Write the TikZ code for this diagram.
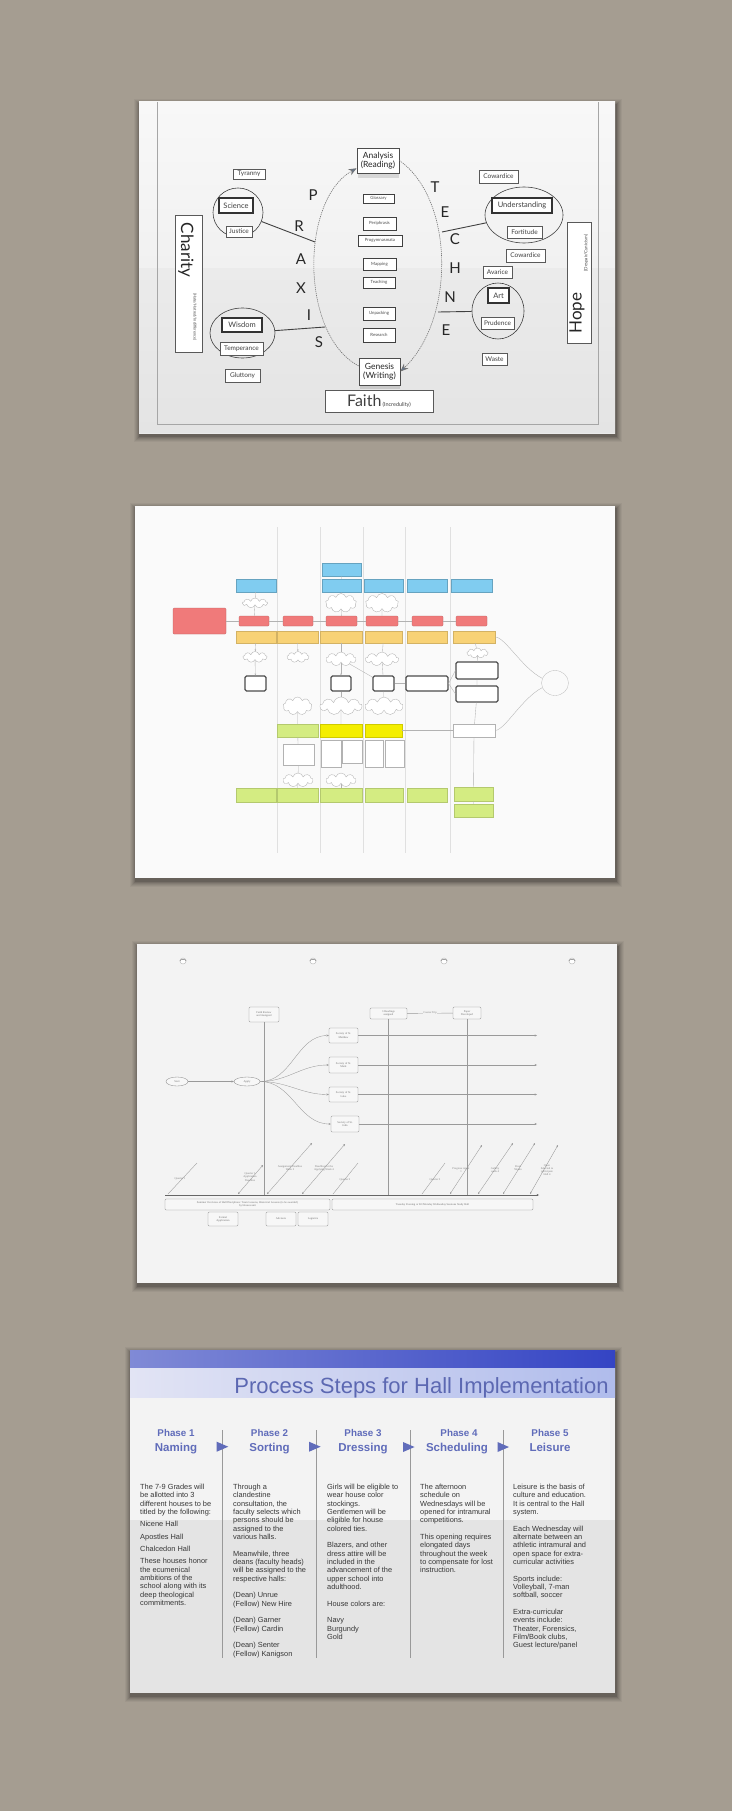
\documentclass[tikz,border=0pt]{standalone}
\usepackage{fontspec}
\setmainfont{Liberation Sans}
\newfontfamily\gill{Lato}
\newfontfamily\serf{Liberation Serif}
\usetikzlibrary{arrows.meta,shapes.geometric,shapes.symbols,calc}
\definecolor{bgc}{RGB}{165,157,145}
\definecolor{ink}{RGB}{55,55,55}
\definecolor{pblue}{RGB}{96,108,186}
\definecolor{tblue}{RGB}{92,104,178}
\definecolor{skyb}{RGB}{128,204,240}
\definecolor{salm}{RGB}{240,122,122}
\definecolor{oran}{RGB}{248,210,118}
\definecolor{lgrn}{RGB}{212,236,130}
\definecolor{yelo}{RGB}{244,238,0}
\definecolor{arrb}{RGB}{100,118,140}
\definecolor{p1top}{RGB}{248,248,248}
\definecolor{p1bot}{RGB}{234,234,234}
\definecolor{p2}{RGB}{250,250,250}
\definecolor{p3}{RGB}{243,243,243}
\definecolor{p4}{RGB}{243,243,243}
\definecolor{hd1l}{RGB}{128,138,214}
\definecolor{hd1r}{RGB}{52,68,196}
\definecolor{hd2l}{RGB}{226,228,244}
\definecolor{hd2r}{RGB}{176,188,236}
\newcommand\bx[7]{\node[#6,minimum width={#4-#2},minimum height={#5-#3}] (#1) at ({(#2+#4)/2},{(#3+#5)/2}) {#7};}
\newcommand\softshadow[4]{%
  \foreach \i/\o in {6/0.04,5/0.05,4/0.06,3/0.07,2/0.09,1/0.12}{%
    \fill[black,opacity=\o] ({#1-\i+0.5},{#2-\i+3}) rectangle ({#3+\i+0.5},{#4+\i+3});}}
\newcommand\diag[8]{\coordinate (#1a) at (#2,1194); \coordinate (#1b) at (#3,#4);
  \draw[l3,#8] (#1a) -- (#1b); \node[t3] (#1l) at (#5,#6) {#7};}
\begin{document}
\begin{tikzpicture}[x=1pt,y=-1pt,
  s1/.style={draw=black!65,line width=0.45,fill=white,inner sep=0,font=\gill\fontsize{6.5}{7}\selectfont,text=black!75},
  s1k/.style={s1,line width=1.4,draw=black!80,font=\gill\fontsize{7.5}{8}\selectfont},
  s1c/.style={draw=black!75,line width=0.6,ellipse,inner sep=0},
  s1m/.style={draw=black!75,line width=0.9,fill=white,inner sep=0,font=\gill\fontsize{4.3}{5}\selectfont,text=black!70},
  s1big/.style={draw=black!70,line width=0.8,fill=white,inner sep=0,align=center,font=\gill\fontsize{8.5}{9}\selectfont,text=black!85},
  lett/.style={font=\gill\fontsize{15}{15}\selectfont,text=black!85,inner sep=0},
  conn1/.style={draw=black!75,line width=0.9},
  dsh/.style={draw=black!55,line width=0.6,dash pattern=on 1.2pt off 0.9pt},
  bigtip/.style={-{Stealth[length=8pt,width=6.5pt,fill=arrb]}},
  s2/.style={inner sep=0,line width=0.3},
  blu/.style={s2,fill=skyb,draw=skyb!80!black},
  redb/.style={s2,fill=salm,draw=salm!75!black,rounded corners=1},
  org/.style={s2,fill=oran,draw=oran!85!black},
  grn/.style={s2,fill=lgrn,draw=lgrn!85!black},
  yel/.style={s2,fill=yelo,draw=yelo!85!black},
  thk/.style={inner sep=0,draw=black!70,line width=1.1,rounded corners=1.5,fill=white},
  cld/.style={cloud,cloud puffs=9,cloud ignores aspect,draw=black!30,line width=0.35,inner sep=0,fill=white},
  wbx/.style={inner sep=0,draw=black!30,line width=0.35,fill=white},
  c2/.style={draw=black!30,line width=0.35},
  s3/.style={draw=black!45,line width=0.35,rounded corners=1.2,fill=white!97!black,inner sep=0.3,align=center,font=\serf\fontsize{2.8}{3.2}\selectfont,text=black!55},
  l3/.style={draw=black!40,line width=0.35},
  ar3/.style={-{Stealth[length=2.4pt,width=2pt]}},
  ar3b/.style={{Stealth[length=2pt,width=1.8pt]}-{Stealth[length=2.2pt,width=2pt]}},
  t3/.style={font=\serf\fontsize{2.8}{3.2}\selectfont,text=black!50,align=center,inner sep=0},
  hole/.style={circle,minimum size=6,draw=black!25,line width=0.5,fill=white,inner sep=0},
  body/.style={font=\fontsize{7.4}{8.33}\selectfont,text=ink,align=left,inner sep=0,anchor=north west},
  ph/.style={font=\bfseries\fontsize{9.8}{10}\selectfont,text=pblue,anchor=base,inner sep=0},
  phn/.style={font=\bfseries\fontsize{11.5}{12}\selectfont,text=pblue,anchor=base,inner sep=0},
  sep4/.style={draw=black!40,line width=0.6}]
\useasboundingbox (0,0) rectangle (732,1811);
\fill[bgc] (0,0) rectangle (732,1811);

% ================= SHEET 1 =================
\softshadow{139}{102}{615}{433}
\shade[top color=p1top,bottom color=p1bot] (139,102) rectangle (615,433);
\fill[black,opacity=0.025] (139,268) rectangle (615,433);
\draw[black!35,line width=0.4] (157,102) -- (157,424) -- (598,424) -- (598,102);

\node[s1c,minimum width=50,minimum height=49] (sciC) at (238,212.5) {};
\node[s1c,minimum width=65,minimum height=50] (wisC) at (242.5,333) {};
\node[s1c,minimum width=78,minimum height=56] (undC) at (524,215) {};
\node[s1c,minimum width=52,minimum height=56] (artC) at (498,311) {};

\bx{tyr}{233}{169}{265}{179}{s1}{Tyranny}
\bx{sci}{219}{198}{253}{213}{s1k}{Science}
\bx{jus}{226}{226}{252}{237}{s1}{Justice}
\bx{wis}{222}{318}{262}{332}{s1k}{Wisdom}
\bx{tem}{220}{342}{263}{355}{s1}{Temperance}
\bx{glu}{225}{369}{260}{382}{s1}{Gluttony}
\bx{char}{175}{215}{202}{352}{s1}{}
\node[rotate=-90,inner sep=0,font=\gill\fontsize{17}{17}\selectfont,text=black!85] (chT) at (186,250) {Charity};
\node[rotate=-90,inner sep=0,font=\gill\fontsize{4}{4}\selectfont,text=black!70] (chS) at (195,317) {(Hate/Hatred/Indifference)};

\fill[black,opacity=0.12] (358,173) rectangle (399,178);
\fill[black,opacity=0.12] (360,385) rectangle (400,389);
\bx{ana}{357}{148}{399}{173}{s1big}{Analysis\\(Reading)}
\bx{glo}{363}{194}{394}{203}{s1m}{Glossary}
\bx{per}{363}{217}{396}{230}{s1m}{Periphrasis}
\bx{pro}{358}{235}{402}{246}{s1m}{Progymnasmata}
\bx{map}{363}{258}{396}{270}{s1m}{Mapping}
\bx{tea}{363}{277}{395}{288}{s1m}{Teaching}
\bx{unp}{363}{307}{395}{320}{s1m}{Unpacking}
\bx{res}{363}{328}{395}{342}{s1m}{Research}
\bx{gen}{359}{358}{400}{385}{s1big}{Genesis\\(Writing)}
\bx{fai}{325}{390}{433}{412}{s1}{{\fontsize{16}{16}\selectfont Faith}\,{\fontsize{5.5}{6}\selectfont (Incredulity)}}

\bx{cow1}{479}{170}{518}{183}{s1}{Cowardice}
\bx{und}{492}{198}{552}{213}{s1k}{Understanding}
\bx{for}{507}{226}{542}{238}{s1}{Fortitude}
\bx{cow2}{506}{249}{545}{262}{s1}{Cowardice}
\bx{ava}{483}{266}{512}{278}{s1}{Avarice}
\bx{art}{488}{288}{509}{303}{s1k}{Art}
\bx{pru}{481}{317}{514}{329}{s1}{Prudence}
\bx{was}{482}{353}{507}{365}{s1}{Waste}
\bx{hope}{567}{222}{591}{343}{s1}{}
\node[rotate=90,inner sep=0,font=\gill\fontsize{17}{17}\selectfont,text=black!85] (hoT) at (577,313) {Hope};
\node[rotate=90,inner sep=0,font=\gill\fontsize{4.5}{5}\selectfont,text=black!70] (hoS) at (586,253) {(Despair/Cynicism)};

\node[lett] (lP) at (313,195) {P};
\node[lett] (lR) at (299,226) {R};
\node[lett] (lA) at (301,259) {A};
\node[lett] (lX) at (301,288) {X};
\node[lett] (lI) at (309,315) {I};
\node[lett] (lS) at (319,342) {S};
\node[lett] (lT) at (435,187) {T};
\node[lett] (lE1) at (445,212) {E};
\node[lett] (lC) at (455,239) {C};
\node[lett] (lH) at (455,268) {H};
\node[lett] (lN) at (450,297) {N};
\node[lett] (lE2) at (446,330) {E};

\draw[dsh,bigtip] (gen.165) .. controls (300,335) and (300,200) .. (ana.200);
\draw[dsh,bigtip] (ana.east) .. controls (455,200) and (455,320) .. (gen.east);

\coordinate (pL1) at (315,242);
\coordinate (pL2) at (325,327);
\coordinate (tR1) at (442,232);
\coordinate (tR2) at (438,312);
\draw[conn1] (sciC) -- (pL1);
\draw[conn1] (wisC) -- (pL2);
\draw[conn1] (undC) -- (tR1);
\draw[conn1] (artC) -- (tR2);

% ================= SHEET 2 =================
\softshadow{135}{506}{615}{878}
\fill[p2] (135,506) rectangle (615,878);
\foreach \x in {277,320,363,405,450}{\draw[black!12,line width=0.4] (\x,527) -- (\x,853);}

\bx{b3t}{322}{563}{361}{576}{blu}{}
\bx{b1}{236}{579}{276}{592}{blu}{}
\bx{b3}{322}{579}{361}{592}{blu}{}
\bx{b4}{364}{579}{403}{592}{blu}{}
\bx{b5}{407}{579}{447}{592}{blu}{}
\bx{b6}{451}{579}{492}{592}{blu}{}
\node[cld,minimum width=25,minimum height=10] (ca1) at (255,603) {};
\node[cld,minimum width=31,minimum height=19] (ca3) at (341,603) {};
\node[cld,minimum width=33,minimum height=19] (ca4) at (382,603) {};
\bx{bigr}{173}{608}{226}{634}{redb}{}
\bx{r1}{239}{616}{269}{626}{redb}{}
\bx{r2}{283}{616}{313}{626}{redb}{}
\bx{r3}{326}{616}{357}{626}{redb}{}
\bx{r4}{366}{616}{398}{626}{redb}{}
\bx{r5}{412}{616}{443}{626}{redb}{}
\bx{r6}{456}{616}{487}{626}{redb}{}
\bx{o1}{236}{631}{276}{643}{org}{}
\bx{o2}{277}{631}{318}{643}{org}{}
\bx{o3}{320}{631}{362}{643}{org}{}
\bx{o4}{365}{631}{402}{643}{org}{}
\bx{o5}{407}{631}{447}{643}{org}{}
\bx{o6}{453}{631}{495}{643}{org}{}
\node[cld,minimum width=24,minimum height=11] (cb1) at (255,657) {};
\node[cld,minimum width=22,minimum height=11] (cb2) at (298,657) {};
\node[cld,minimum width=30,minimum height=14] (cb3) at (341,659) {};
\node[cld,minimum width=33,minimum height=14] (cb4) at (382,659) {};
\node[cld,minimum width=21,minimum height=10] (cb6) at (477.5,653) {};
\bx{t1}{245}{676}{266}{691}{thk}{}
\bx{t3}{331}{676}{351}{691}{thk}{}
\bx{t4}{373}{676}{394}{691}{thk}{}
\bx{t5}{406}{676}{448}{691}{thk}{}
\bx{t6a}{456}{662}{498}{679}{thk}{}
\bx{t6b}{456}{686}{498}{702}{thk}{}
\node[cld,minimum width=29,minimum height=18] (cc2) at (297.5,706) {};
\node[cld,minimum width=42,minimum height=18] (cc3) at (341,706) {};
\node[cld,minimum width=38,minimum height=18] (cc4) at (384,706) {};
\node[ellipse,draw=black!25,line width=0.35,minimum width=27,minimum height=25,inner sep=0] (circ) at (555,683) {};
\bx{g2}{277}{724}{318}{737}{grn}{}
\bx{y3}{320}{724}{362}{737}{yel}{}
\bx{y4}{365}{724}{402}{737}{yel}{}
\bx{w6}{453}{724}{495}{737}{wbx}{}
\bx{tb2}{283}{744}{314}{765}{wbx}{}
\bx{tb3a}{321}{740}{341}{767}{wbx}{}
\bx{tb3b}{342}{740}{362}{763}{wbx}{}
\bx{tb4a}{365}{740}{383}{767}{wbx}{}
\bx{tb4b}{385}{740}{404}{767}{wbx}{}
\node[cld,minimum width=30,minimum height=14] (cd2) at (298,780) {};
\node[cld,minimum width=30,minimum height=14] (cd3) at (341,780) {};
\bx{gg1}{236}{788}{276}{802}{grn}{}
\bx{gg2}{277}{788}{318}{802}{grn}{}
\bx{gg3}{320}{788}{362}{802}{grn}{}
\bx{gg4}{365}{788}{403}{802}{grn}{}
\bx{gg5}{407}{788}{447}{802}{grn}{}
\bx{gg6}{454}{787}{493}{801}{grn}{}
\bx{ge6}{454}{804}{493}{817}{grn}{}

\draw[c2] (bigr) -- (r1) -- (r2) -- (r3) -- (r4) -- (r5) -- (r6);
\draw[c2] (b1) -- (ca1) -- (r1);
\draw[c2] (b3t) -- (b3) -- (ca3) -- (r3);
\draw[c2] (b4) -- (ca4) -- (r4);
\draw[c2,-{Stealth[length=2pt]}] (o1) -- (cb1);
\draw[c2,-{Stealth[length=2pt]}] (cb1) -- (t1);
\draw[c2,-{Stealth[length=2pt]}] (o2) -- (cb2);
\draw[c2] (o3) -- (cb3);
\draw[c2,-{Stealth[length=2pt]}] (cb3) -- (t3);
\draw[c2] (o4) -- (cb4) -- (t4);
\draw[c2] (cb3) -- (t4);
\draw[c2] (t3) -- (cc3);
\draw[c2] (t4) -- (cc4);
\draw[c2] (t4) -- (t5);
\draw[c2] (t5.east) -- (t6a.west);
\draw[c2] (t5.east) -- (t6b.west);
\draw[c2] (o6) -- (cb6) -- (t6a) -- (t6b) -- (w6);
\draw[c2] (cc2) -- (g2) -- (tb2) -- (cd2) -- (gg2);
\draw[c2] (cc3) -- (y3);
\draw[c2] (cd3) -- (gg3);
\draw[c2] (y4) -- (w6);
\draw[c2] (w6) -- (gg6) -- (ge6);
\draw[c2] (o6.east) .. controls (505,637) and (522,668) .. (circ.160);
\draw[c2] (circ.200) .. controls (522,698) and (505,730) .. (w6.east);

% ================= SHEET 3 =================
\softshadow{137}{944}{617}{1283}
\fill[p3] (137,944) rectangle (617,1283);
\foreach \n/\x in {h1/183,h2/313,h3/444,h4/572}{%
  \node[hole] (\n) at (\x,961) {};
  \draw[black!45,line width=0.6] (\n.west) .. controls (\n.north west) and (\n.north east) .. (\n.east);}

\bx{fra}{249}{1007}{279}{1022}{s3}{Faith Review\\and Assigned}
\bx{rda}{370}{1008}{407}{1019}{s3}{3 Readings\\assigned}
\bx{ppr}{453}{1007}{481}{1019}{s3}{Paper\\Developed}
\draw[l3] (rda) -- node[t3,fill=p3,inner sep=0.5]{Course Trip} (ppr);
\node[s3,ellipse,minimum width=22,minimum height=9] (st1) at (177,1081.5) {Start};
\node[s3,ellipse,minimum width=26,minimum height=9] (st2) at (247,1081.5) {Apply};
\draw[l3,ar3] (st1) -- (st2);
\bx{so1}{329}{1028}{358}{1043}{s3}{Society of St.\\Matthew}
\bx{so2}{329}{1057}{358}{1073}{s3}{Society of St.\\Mark}
\bx{so3}{329}{1087}{358}{1102}{s3}{Society of St.\\Luke}
\bx{so4}{331}{1116}{359}{1132}{s3}{Society of St.\\John}
\foreach \s in {so1,so2,so3,so4}{\draw[l3,ar3] (st2.east) to[out=0,in=180] (\s.west);}
\coordinate (rx) at (537,0);
\foreach \s in {so1,so2,so3,so4}{\draw[l3,ar3] (\s.east) -- (\s.east -| rx);}
\coordinate (tlb) at (0,1195);
\draw[l3] (fra.south) -- (fra.south |- tlb);
\draw[l3] (rda.south) -- (rda.south |- tlb);
\draw[l3] (ppr.south) -- (ppr.south |- tlb);
\coordinate (tl0) at (165,1195);
\coordinate (tl1) at (539,1195);
\draw[line width=0.9,black!60,ar3] (tl0) -- (tl1);
\bx{bb1}{165}{1199}{330}{1210}{s3}{Summer Overview of Hall Disciplines: Team Lessons, Historical Lessons (to be awarded)\\by Houses unit}
\bx{bb2}{332}{1199}{533}{1210}{s3}{Tuesday Evening or Fri/Monday Wednesday Sessions Study Hall}
\bx{d1}{208}{1212}{238}{1226}{s3}{Formal\\Application}
\bx{d2}{266}{1212}{296}{1226}{s3}{Advisors}
\bx{d3}{298}{1212}{328}{1226}{s3}{Logistics}

\diag{q1}{168}{197}{1163}{180}{1179}{Quarter 1}{}
\diag{q2}{238}{263}{1165}{250}{1177}{Quarter 1\\Application\\Deadline}{ar3b}
\diag{q3}{267}{312}{1143}{290}{1168}{Assignment Deadline\\Week 2}{ar3b}
\diag{q4}{302}{345}{1144}{324}{1168}{Deadline for the\\Applying Week 4}{ar3b}
\diag{q5}{333}{358}{1163}{345}{1180}{Quarter 2}{}
\diag{q6}{422}{445}{1163}{435}{1180}{Quarter 3}{}
\diag{q7}{450}{482}{1145}{461}{1170}{Progress report\\1}{ar3b}
\diag{q8}{478}{513}{1143}{495}{1170}{Gallery\\week 4}{ar3b}
\diag{q9}{503}{535}{1143}{518}{1168}{Final\\Weeks}{ar3b}
\diag{q10}{530}{558}{1145}{547}{1170}{Open\\Selected to\\participate\\Hall 4}{ar3b}

% ================= SHEET 4 =================
\softshadow{130}{1350}{615}{1693}
\fill[p4] (130,1350) rectangle (615,1693);
\fill[black,opacity=0.06] (130,1520) rectangle (615,1693);
\shade[left color=hd1l,right color=hd1r] (130,1350) rectangle (615,1368);
\shade[left color=hd2l,right color=hd2r] (130,1368) rectangle (615,1397);
\node[anchor=base,inner sep=0,font=\fontsize{22}{22}\selectfont,text=tblue] (ttl) at (421.5,1393) {Process Steps for Hall Implementation};

\foreach \x in {222,316,410,503}{\draw[sep4] (\x,1430) -- (\x,1658);}
\fill[pblue] (216.7,1441.7) -- (228.3,1446.7) -- (216.7,1451.7) -- cycle;
\fill[pblue] (309,1441.7) -- (320.6,1446.7) -- (309,1451.7) -- cycle;
\fill[pblue] (403,1442) -- (414.6,1447) -- (403,1452) -- cycle;
\fill[pblue] (497.5,1442) -- (509,1447) -- (497.5,1452) -- cycle;

\node[ph] (ph1) at (176,1436) {Phase 1};
\node[phn] (pn1) at (176,1451) {Naming};
\node[ph] (ph2) at (269.5,1436) {Phase 2};
\node[phn] (pn2) at (269.5,1451) {Sorting};
\node[ph] (ph3) at (363,1436) {Phase 3};
\node[phn] (pn3) at (363,1451) {Dressing};
\node[ph] (ph4) at (459,1436) {Phase 4};
\node[phn] (pn4) at (457,1451) {Scheduling};
\node[ph] (ph5) at (550,1436) {Phase 5};
\node[phn] (pn5) at (550,1451) {Leisure};

\node[body] (tx1) at (140,1484) {The 7-9 Grades will\\be allotted into 3\\different houses to be\\titled by the following:\\[4pt]Nicene Hall\\[4pt]Apostles Hall\\[4pt]Chalcedon Hall\\[4pt]These houses honor\\the ecumenical\\ambitions of the\\school along with its\\deep theological\\commitments.};
\node[body] (tx2) at (233,1484) {Through a\\clandestine\\consultation, the\\faculty selects which\\persons should be\\assigned to the\\various halls.\\[8.33pt]Meanwhile, three\\deans (faculty heads)\\will be assigned to the\\respective halls:\\[8.33pt](Dean) Unrue\\(Fellow) New Hire\\[8.33pt](Dean) Garner\\(Fellow) Cardin\\[8.33pt](Dean) Senter\\(Fellow) Kanigson};
\node[body] (tx3) at (327,1484) {Girls will be eligible to\\wear house color\\stockings.\\Gentlemen will be\\eligible for house\\colored ties.\\[8.33pt]Blazers, and other\\dress attire will be\\included in the\\advancement of the\\upper school into\\adulthood.\\[8.33pt]House colors are:\\[8.33pt]Navy\\Burgundy\\Gold};
\node[body] (tx4) at (420,1484) {The afternoon\\schedule on\\Wednesdays will be\\opened for intramural\\competitions.\\[8.33pt]This opening requires\\elongated days\\throughout the week\\to compensate for lost\\instruction.};
\node[body] (tx5) at (513,1484) {Leisure is the basis of\\culture and education.\\It is central to the Hall\\system.\\[8.33pt]Each Wednesday will\\alternate between an\\athletic intramural and\\open space for extra-\\curricular activities\\[8.33pt]Sports include:\\Volleyball, 7-man\\softball, soccer\\[8.33pt]Extra-curricular\\events include:\\Theater, Forensics,\\Film/Book clubs,\\Guest lecture/panel};
\end{tikzpicture}
\end{document}
